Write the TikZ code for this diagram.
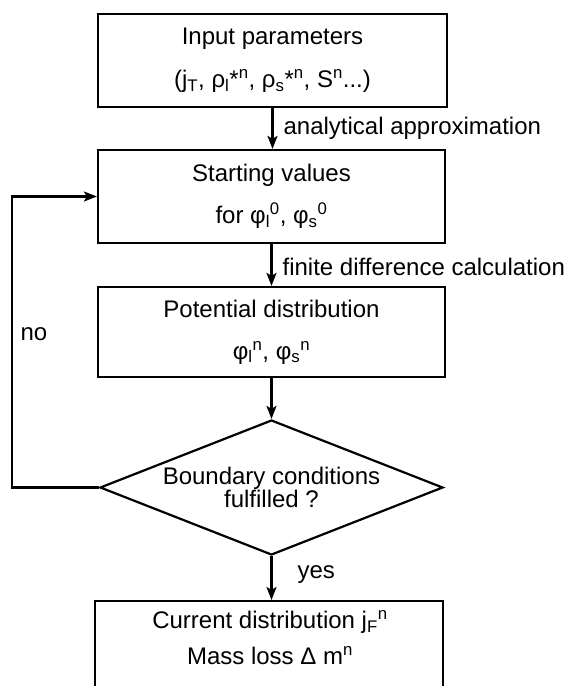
\documentclass[tikz,border=0pt]{standalone}
\usepackage{fontspec}
\setmainfont{Liberation Sans}
\usetikzlibrary{shapes.geometric,arrows.meta}
\begin{document}
\begin{tikzpicture}[x=1pt,y=-1pt,
  every node/.style={font=\fontsize{24}{27}\selectfont},
  procbox/.style={draw,line width=2.2pt,rectangle,align=center,inner sep=0pt},
  decision/.style={draw,line width=2.2pt,diamond,shape aspect=2.5,inner sep=0pt,align=center,font=\fontsize{24}{21.5}\selectfont},
  flow/.style={line width=2.2pt,-{Stealth[length=13pt,width=10pt,inset=3pt]}},
  edgelabel/.style={anchor=west,inner sep=0pt}]
\useasboundingbox (0,0) rectangle (567,686);
\clip (0,0) rectangle (567,686);

\node[procbox, minimum width=349pt, minimum height=93pt] (inp) at (272.5,60.5)
  {Input parameters\\[16pt](j\textsubscript{T}, ρ\textsubscript{l}*\textsuperscript{n}, ρ\textsubscript{s}*\textsuperscript{n}, S\textsuperscript{n}...)};
\node[procbox, minimum width=347pt, minimum height=93pt] (start) at (271.5,196.5)
  {Starting values\\[15pt]for φ\textsubscript{l}\textsuperscript{0}, φ\textsubscript{s}\textsuperscript{0}};
\node[procbox, minimum width=347pt, minimum height=90pt] (pot) at (271.5,332)
  {Potential distribution\\[15pt]φ\textsubscript{l}\textsuperscript{n}, φ\textsubscript{s}\textsuperscript{n}};
\node[decision, minimum width=343pt, minimum height=135pt] (dec) at (271.5,487.5)
  {Boundary conditions\\fulfilled ?};
\node[procbox, minimum width=348pt, minimum height=120pt, anchor=north] (res) at (269,600) {};
\node[align=center, inner sep=0pt] (restext) at (270,638)
  {Current distribution j\textsubscript{F}\textsuperscript{n}\\[9pt]Mass loss Δ m\textsuperscript{n}};

\draw[flow] (inp.south) -- (inp.south |- start.north)
  node[edgelabel, midway, xshift=10pt] (lab1) {analytical approximation};
\draw[flow] (start.south) -- (pot.north)
  node[edgelabel, midway, xshift=10pt, yshift=-2pt] (lab2) {finite difference calculation};
\draw[flow] (pot.south) -- (dec.north);
\draw[flow] (dec.south) -- (dec.south |- res.north)
  node[edgelabel, midway, xshift=25pt, yshift=4pt] (lab3) {yes};
\coordinate (loopc) at (12,487.5);
\draw[flow] (dec.west) -- (loopc) |- (start.west);
\node (nolab) at (34,334) {no};
\end{tikzpicture}
\end{document}
